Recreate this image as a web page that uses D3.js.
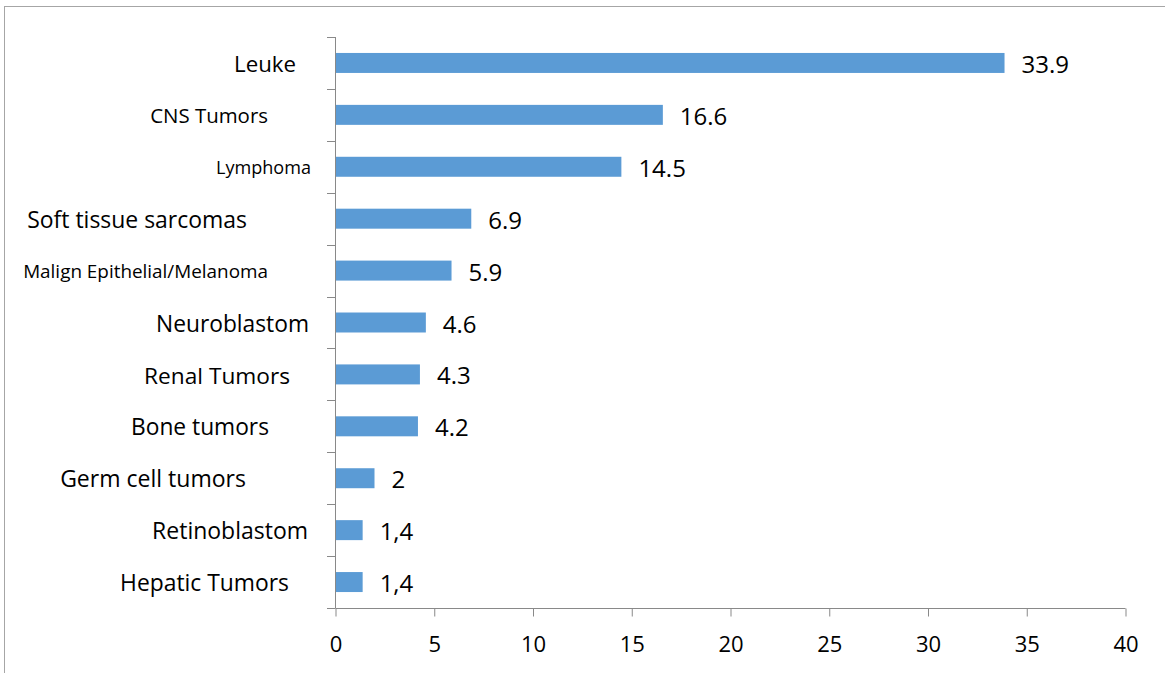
<!DOCTYPE html>
<html>
<head>
<meta charset="utf-8">
<script src="https://cdn.jsdelivr.net/npm/d3@7"></script>
<style>
  html, body { margin: 0; padding: 0; background: #fff; }
  svg { display: block; }
  text { font-family: "Open Sans", "Noto Sans", sans-serif; fill: #000; }
</style>
</head>
<body>
<svg id="chart" width="1165" height="673"></svg>
<script>
// ---- data ----
const categories = ["Leuke", "CNS Tumors", "Lymphoma", "Soft tissue sarcomas",
  "Malign Epithelial/Melanoma", "Neuroblastom", "Renal Tumors", "Bone tumors",
  "Germ cell tumors", "Retinoblastom", "Hepatic Tumors"];
const values = [33.9, 16.6, 14.5, 6.9, 5.9, 4.6, 4.3, 4.2, 2, 1.4, 1.4];
const valueLabels = ["33.9", "16.6", "14.5", "6.9", "5.9", "4.6", "4.3", "4.2", "2", "1,4", "1,4"];
const xTicks = [0, 5, 10, 15, 20, 25, 30, 35, 40];

// ---- label layout (styling, separate from data): right edge and target width of each category label ----
const labelRight = [296, 268, 311, 247, 268, 309, 290, 269, 246, 308, 289];
const labelWidth = [62, 118, 95, 220, 245, 153, 146, 138, 186, 156, 169];

const svg = d3.select("#chart");
const axisColor = "#898989";

// outer frame (left and top edges visible)
svg.append("rect")
  .attr("x", 4.5).attr("y", 6.5)
  .attr("width", 1200).attr("height", 700)
  .attr("fill", "none").attr("stroke", "#a6a6a6").attr("stroke-width", 1);

const x = d3.scaleLinear().domain([0, 40]).range([335, 1125]);
const y = d3.scaleBand().domain(categories).range([37, 608])
  .paddingInner(0.615).paddingOuter(0.3075);
const step = y.step();
const yTop = 37, yBottom = 608;

// bars
svg.append("g").selectAll("rect")
  .data(categories)
  .join("rect")
  .attr("x", x(0))
  .attr("y", d => y(d))
  .attr("width", (d, i) => x(values[i]) - x(0))
  .attr("height", y.bandwidth())
  .attr("fill", "#5b9bd5");

// value labels
svg.append("g").selectAll("text")
  .data(categories)
  .join("text")
  .attr("x", (d, i) => x(values[i]) + 17)
  .attr("y", d => y(d) + y.bandwidth() / 2 + 1.5 + 0.357 * 24)
  .attr("font-size", 24)
  .text((d, i) => valueLabels[i]);

// category labels, font sized to reference widths
const catG = svg.append("g");
categories.forEach((c, i) => {
  const t = catG.append("text")
    .attr("text-anchor", "end")
    .attr("font-size", 100)
    .text(c);
  const w = t.node().getComputedTextLength();
  const fs = 100 * labelWidth[i] / w;
  t.attr("font-size", fs)
    .attr("x", labelRight[i])
    .attr("y", y(c) + y.bandwidth() / 2 + 1 + 0.357 * fs);
});

// y axis line and ticks at band boundaries
const yAxis = svg.append("g").attr("stroke", axisColor).attr("stroke-width", 1);
yAxis.append("line")
  .attr("x1", x(0) + 0.5).attr("x2", x(0) + 0.5)
  .attr("y1", yTop).attr("y2", yBottom);
d3.range(categories.length + 1).forEach(i => {
  const yy = Math.round(yTop + i * step) + 0.5;
  yAxis.append("line")
    .attr("x1", x(0) - 8).attr("x2", x(0) + 0.5)
    .attr("y1", yy).attr("y2", yy);
});

// x axis
const xAxisG = svg.append("g")
  .attr("transform", `translate(0.5,${yBottom + 0.5})`)
  .call(d3.axisBottom(x).tickValues(xTicks).tickSize(8).tickPadding(20).tickFormat(d3.format("d")));
xAxisG.select(".domain").attr("stroke", axisColor).attr("d", `M${x(0)},0H${x(40)}`);
xAxisG.selectAll(".tick line").attr("stroke", axisColor);
xAxisG.selectAll(".tick text")
  .attr("font-family", "'Open Sans', 'Noto Sans', sans-serif")
  .attr("font-size", 22)
  .attr("fill", "#000");
</script>
</body>
</html>
